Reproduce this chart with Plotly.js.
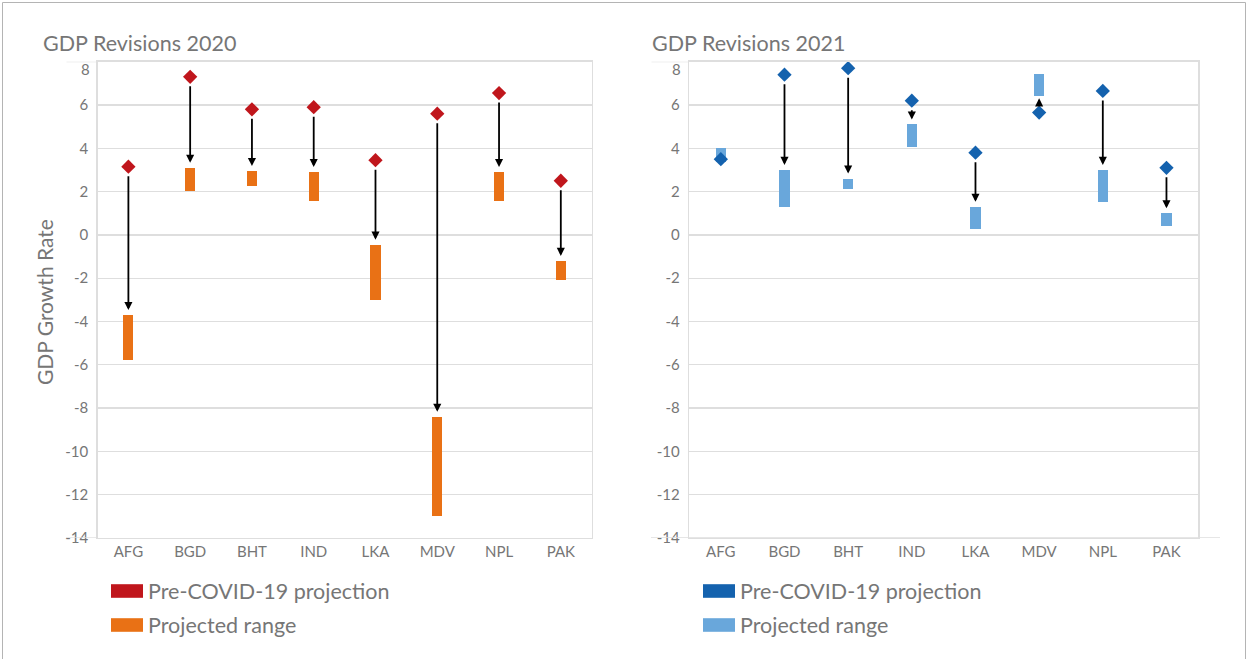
<!DOCTYPE html>
<html>
<head>
<meta charset="utf-8">
<script src="https://cdn.plot.ly/plotly-3.0.1.min.js"></script>
<style>html,body{margin:0;padding:0;background:#fff;}#chart{width:1248px;height:659px;}</style>
</head>
<body>
<div id="chart"></div>
<script>
// ---- data ----
const categories = ['AFG','BGD','BHT','IND','LKA','MDV','NPL','PAK'];
const pre2020  = [3.15, 7.3, 5.8, 5.9, 3.45, 5.6, 6.55, 2.5];
const low2020  = [-5.8, 2.05, 2.25, 1.55, -3.0, -13.0, 1.55, -2.1];
const high2020 = [-3.7, 3.1, 2.95, 2.9, -0.45, -8.4, 2.9, -1.2];
const pre2021  = [3.5, 7.4, 7.7, 6.2, 3.8, 5.65, 6.65, 3.1];
const low2021  = [3.35, 1.3, 2.1, 4.05, 0.25, 6.4, 1.5, 0.4];
const high2021 = [4.0, 3.0, 2.6, 5.1, 1.3, 7.45, 3.0, 1.0];
const yTickVals   = [-14, -12, -10, -8, -6, -4, -2, 0, 2, 4, 6, 8];
const yTickLabels = ['-14', '-12', '-10', '-8', '-6', '-4', '-2', '0', '2', '4', '6', '8'];
const titles = ['GDP Revisions 2020', 'GDP Revisions 2021'];
const legendLabels = ['Pre-COVID-19 projection', 'Projected range'];
const yTitle = 'GDP Growth Rate';

// ---- style ----
const W = 1248, H = 659;
const px = x => x / W;
const py = y => 1 - y / H;
const FONT = 'Lato, "Open Sans", sans-serif';
const TXT = '#767676';
const GRID = '#dedede';
const colors = {
  pre2020: '#C0161C', range2020: '#E97115',
  pre2021: '#1462AE', range2021: '#69A7DB'
};

function rangeBar(low, high, color, xa, ya) {
  return {
    type: 'bar', x: categories.map((c, i) => i),
    y: high.map((h, i) => h - low[i]), base: low,
    width: 0.165, marker: {color: color, line: {width: 0}},
    xaxis: xa, yaxis: ya, hoverinfo: 'skip'
  };
}
function preMarkers(pre, color, xa, ya) {
  return {
    type: 'scatter', mode: 'markers', x: categories.map((c, i) => i), y: pre,
    marker: {symbol: 'diamond', size: 11, color: color, line: {width: 0}},
    xaxis: xa, yaxis: ya, hoverinfo: 'skip'
  };
}
function arrows(pre, low, high, xr, yr) {
  const out = [];
  pre.forEach((p, i) => {
    let target = null;
    if (p > high[i]) target = high[i];
    else if (p < low[i]) target = low[i];
    if (target === null) return;
    const short = Math.abs(target - p) < 1;
    out.push({
      xref: xr, yref: yr, axref: xr, ayref: yr,
      x: i, y: target, ax: i, ay: p, text: '',
      showarrow: true, arrowhead: 2, arrowsize: 0.9, arrowwidth: 1.8,
      arrowcolor: '#000', standoff: short ? 2 : 5, startstandoff: short ? 5 : 8
    });
  });
  return out;
}

const traces = [
  rangeBar(low2020, high2020, colors.range2020, 'x', 'y'),
  preMarkers(pre2020, colors.pre2020, 'x', 'y'),
  rangeBar(low2021, high2021, colors.range2021, 'x2', 'y2'),
  preMarkers(pre2021, colors.pre2021, 'x2', 'y2')
];

const xBase = {
  type: 'linear', range: [-0.5, 7.5], tickmode: 'array',
  tickvals: categories.map((c, i) => i), ticktext: categories,
  showgrid: false, zeroline: false, showline: true, mirror: true,
  linecolor: GRID, linewidth: 1.3, ticks: '',
  tickfont: {family: FONT, size: 15, color: TXT}, fixedrange: true
};
// the top label (8) sits a little below its gridline in the reference: drawn as annotation
const yBase = {
  range: [-14, 8], tickmode: 'array', tickvals: yTickVals,
  ticktext: yTickLabels.map((t, i) => i === yTickLabels.length - 1 ? '' : t),
  showgrid: true, gridcolor: GRID,
  gridwidth: 1.3, zeroline: true, zerolinecolor: GRID, zerolinewidth: 1.3,
  showline: true, mirror: true, linecolor: GRID, linewidth: 1.3, ticks: '',
  ticklabelstandoff: 5,
  tickfont: {family: FONT, size: 15, color: TXT}, fixedrange: true
};

const L = {x0: 97.5, x1: 591.7}, R = {x0: 689, x1: 1198.3};
const yTop = 61.7, yBot = 538;

const shapes = [
  // outer frame
  {type: 'rect', xref: 'paper', yref: 'paper', x0: px(2.5), x1: px(1245.5), y0: -0.02, y1: py(2.5),
   line: {color: '#b4b4b4', width: 1}, fillcolor: 'rgba(0,0,0,0)'},
  // extended top/bottom lines
  {type: 'line', xref: 'paper', yref: 'y', x0: px(66.5), x1: px(L.x0), y0: 8, y1: 8, line: {color: GRID, width: 1.3}},
  {type: 'line', xref: 'paper', yref: 'y', x0: px(66), x1: px(L.x0), y0: -14, y1: -14, line: {color: GRID, width: 1.3}},
  {type: 'line', xref: 'paper', yref: 'y2', x0: px(651.5), x1: px(R.x0), y0: 8, y1: 8, line: {color: GRID, width: 1.3}},
  {type: 'line', xref: 'paper', yref: 'y2', x0: px(651), x1: px(1220), y0: -14, y1: -14, line: {color: GRID, width: 1.3}}
];

// legend patches
const legendRows = [591, 625];
const legendSets = [
  {x: 111, cols: [colors.pre2020, colors.range2020]},
  {x: 703, cols: [colors.pre2021, colors.range2021]}
];
const annotations = [];
legendSets.forEach(s => {
  legendRows.forEach((ry, k) => {
    shapes.push({type: 'rect', xref: 'paper', yref: 'paper',
      x0: px(s.x), x1: px(s.x + 32), y0: py(ry + 6.8), y1: py(ry - 6.8),
      fillcolor: s.cols[k], line: {width: 0}});
    annotations.push({xref: 'paper', yref: 'paper', x: px(s.x + 35), y: py(ry),
      xanchor: 'left', yanchor: 'middle', showarrow: false, text: legendLabels[k],
      font: {family: FONT, size: 21.5, color: TXT}});
  });
});
// top tick label (8), placed like the reference
[L.x0, R.x0].forEach(x0 => {
  annotations.push({xref: 'paper', yref: 'paper', x: px(x0 - 6), y: py(69), xanchor: 'right', yanchor: 'middle',
    showarrow: false, text: yTickLabels[yTickLabels.length - 1], font: {family: FONT, size: 15, color: TXT}});
});
// titles
annotations.push({xref: 'paper', yref: 'paper', x: px(41), y: py(43), xanchor: 'left', yanchor: 'middle',
  showarrow: false, text: titles[0], font: {family: FONT, size: 21.5, color: TXT}});
annotations.push({xref: 'paper', yref: 'paper', x: px(650), y: py(43), xanchor: 'left', yanchor: 'middle',
  showarrow: false, text: titles[1], font: {family: FONT, size: 21.5, color: TXT}});
annotations.push({xref: 'paper', yref: 'paper', x: px(45), y: py(302), xanchor: 'center', yanchor: 'middle',
  textangle: -90, showarrow: false, text: yTitle, font: {family: FONT, size: 21, color: TXT}});

const layout = {
  width: W, height: H,
  margin: {l: 0, r: 0, t: 0, b: 0, pad: 0, autoexpand: false},
  paper_bgcolor: '#fff', plot_bgcolor: '#fff',
  showlegend: false, bargap: 0,
  xaxis: Object.assign({}, xBase, {domain: [px(L.x0), px(L.x1)], anchor: 'y'}),
  yaxis: Object.assign({}, yBase, {domain: [py(yBot), py(yTop)], anchor: 'x'}),
  xaxis2: Object.assign({}, xBase, {domain: [px(R.x0), px(R.x1)], anchor: 'y2'}),
  yaxis2: Object.assign({}, yBase, {domain: [py(yBot), py(yTop)], anchor: 'x2'}),
  shapes: shapes,
  annotations: annotations
    .concat(arrows(pre2020, low2020, high2020, 'x', 'y'))
    .concat(arrows(pre2021, low2021, high2021, 'x2', 'y2'))
};

Plotly.newPlot('chart', traces, layout, {staticPlot: true, displayModeBar: false});
</script>
</body>
</html>
